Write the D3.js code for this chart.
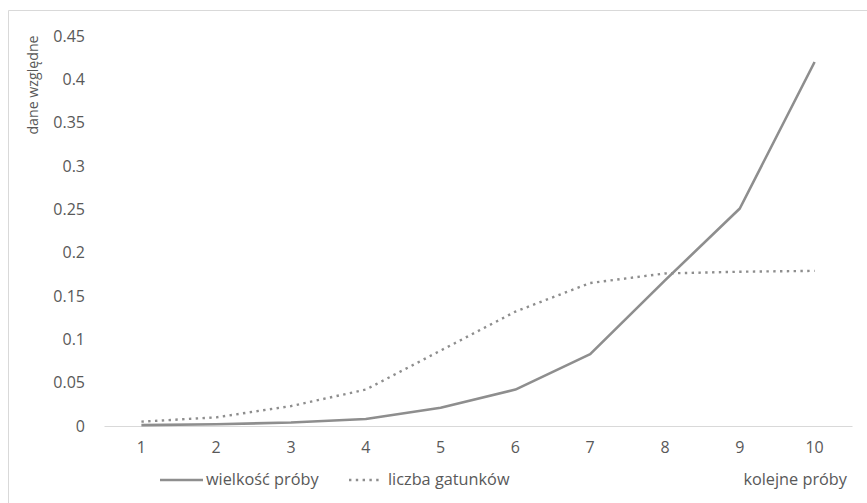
<!DOCTYPE html>
<html>
<head>
<meta charset="utf-8">
<script src="https://cdn.jsdelivr.net/npm/d3@7/dist/d3.min.js"></script>
<style>
  html, body { margin: 0; padding: 0; background: #ffffff; }
  svg { display: block; }
  text { font-family: "Open Sans", "Noto Sans", sans-serif; fill: #595959; }
</style>
</head>
<body>
<script>
// Kolejne próby (oś X)
const categories = ["1", "2", "3", "4", "5", "6", "7", "8", "9", "10"];
// Serie danych względnych
const sampleSize = [0.001, 0.002, 0.004, 0.008, 0.021, 0.042, 0.083, 0.168, 0.251, 0.42];
const speciesCount = [0.005, 0.01, 0.023, 0.042, 0.087, 0.132, 0.165, 0.176, 0.178, 0.179];
const seriesNames = ["wielkość próby", "liczba gatunków"];
const yTicks = [0, 0.05, 0.1, 0.15, 0.2, 0.25, 0.3, 0.35, 0.4, 0.45];
const yTickLabels = ["0", "0.05", "0.1", "0.15", "0.2", "0.25", "0.3", "0.35", "0.4", "0.45"];
const yTitle = "dane względne";
const xTitle = "kolejne próby";

const W = 867, H = 503;
const svg = d3.select("body").append("svg").attr("width", W).attr("height", H);

// ramka wykresu (lewa i górna krawędź)
svg.append("path")
  .attr("d", `M8.5,${H} V10.5 H${W}`)
  .attr("fill", "none").attr("stroke", "#d9d9d9").attr("stroke-width", 1);

const x = d3.scaleBand().domain(categories).range([104, 852]);
const y = d3.scaleLinear().domain([0, 0.45]).range([426, 36]);
const cx = d => x(d) + x.bandwidth() / 2;

const tickFont = 16;

// oś Y – etykiety
const yAxis = d3.axisLeft(y).tickValues(yTicks)
  .tickFormat((d, i) => yTickLabels[i]).tickSize(0).tickPadding(0);
const gy = svg.append("g").attr("transform", "translate(85,0)").call(yAxis);
gy.select(".domain").remove();
gy.selectAll("text").attr("font-size", tickFont).attr("fill", "#595959")
  .attr("font-family", "Open Sans, Noto Sans, sans-serif");

// oś X
const xAxis = d3.axisBottom(x).tickSize(0).tickPadding(0);
const gx = svg.append("g").attr("transform", "translate(0,426)").call(xAxis);
gx.select(".domain").attr("stroke", "#d9d9d9").attr("stroke-width", 1.2);
gx.selectAll("text").attr("font-size", tickFont).attr("fill", "#595959")
  .attr("dy", "0").attr("y", 27)
  .attr("font-family", "Open Sans, Noto Sans, sans-serif");

// tytuł osi Y
svg.append("text")
  .attr("transform", "translate(38,85) rotate(-90)")
  .attr("text-anchor", "middle")
  .attr("font-size", 14.2)
  .text(yTitle);

const lineColor = "#8e8e8e";
const line = d3.line().x((d, i) => cx(categories[i])).y(d => y(d));

// seria ciągła
svg.append("path").datum(sampleSize)
  .attr("d", line)
  .attr("fill", "none").attr("stroke", lineColor)
  .attr("stroke-width", 2.6).attr("stroke-linejoin", "round");

// seria kropkowana
svg.append("path").datum(speciesCount)
  .attr("d", line)
  .attr("fill", "none").attr("stroke", lineColor)
  .attr("stroke-width", 2.4).attr("stroke-dasharray", "2.4 4.4");

// legenda
const ly = 480;
const legendFont = 16.3;
svg.append("line").attr("x1", 160).attr("x2", 203).attr("y1", ly).attr("y2", ly)
  .attr("stroke", lineColor).attr("stroke-width", 2.6);
svg.append("text").attr("x", 206).attr("y", ly + 5).attr("font-size", legendFont).text(seriesNames[0]);
svg.append("line").attr("x1", 349).attr("x2", 383).attr("y1", ly).attr("y2", ly)
  .attr("stroke", lineColor).attr("stroke-width", 2.4).attr("stroke-dasharray", "2.4 4.4");
svg.append("text").attr("x", 388).attr("y", ly + 5).attr("font-size", legendFont).text(seriesNames[1]);

// tytuł osi X
svg.append("text").attr("x", 847).attr("y", ly + 5).attr("text-anchor", "end")
  .attr("font-size", legendFont).text(xTitle);
</script>
</body>
</html>
